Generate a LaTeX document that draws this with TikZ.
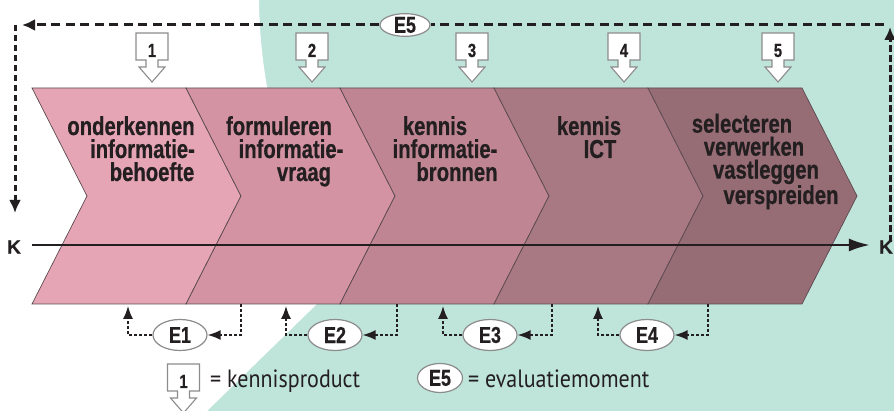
\documentclass[tikz,border=0pt]{standalone}
\usepackage{fontspec}
\setmainfont{Liberation Sans}
\newfontfamily\condb{Liberation Sans Bold}[FakeStretch=0.78,FakeBold=0.6]
\newfontfamily\kfont{Liberation Sans Bold}[FakeBold=0.5]
\newfontfamily\legf{PT Sans}[FakeStretch=0.88]
\usetikzlibrary{shapes.geometric,arrows.meta}
\definecolor{tealbg}{HTML}{BFE4DA}
\definecolor{chA}{HTML}{E6A5B5}
\definecolor{chB}{HTML}{D393A3}
\definecolor{chC}{HTML}{C08593}
\definecolor{chD}{HTML}{A87983}
\definecolor{chE}{HTML}{966C75}
\definecolor{chline}{HTML}{5B4A50}
\definecolor{ink}{HTML}{231F20}
\definecolor{rim}{HTML}{8C8C8C}
\begin{document}
\begin{tikzpicture}[x=1pt,y=-1pt,
  chev/.style={draw=chline, line width=0.7pt},
  lab/.style={font=\condb\fontsize{26}{23}\selectfont, text=ink, anchor=base, inner sep=0pt, align=center},
  num/.style={font=\condb\fontsize{19}{19}\selectfont, text=ink, anchor=base, inner sep=0pt},
  kl/.style={font=\kfont\fontsize{19}{19}\selectfont, text=ink, inner sep=0pt},
  ev/.style={ellipse, draw=rim, line width=1.2pt, fill=white, inner sep=0pt,
     font=\condb\fontsize{23}{23}\selectfont, text=ink, minimum width=54pt, minimum height=31pt},
  prodline/.style={draw=rim, line width=1.1pt, fill=white, line join=miter},
  prodbox/.pic={\path[prodline] (-16,-13.5) -- (16,-13.5) -- (16,13.5) -- (6,13.5) -- (6,20.5) -- (13,20.5) -- (0,35.5) -- (-13,20.5) -- (-6,20.5) -- (-6,13.5) -- (-16,13.5) -- cycle;},
  looph/.style={draw=ink, line width=3pt, dash pattern=on 9pt off 5.5pt},
  loopv/.style={draw=ink, line width=3pt, dash pattern=on 6.5pt off 3.5pt},
  bigtip/.style={-{Latex[length=13pt,width=12pt]}},
  small/.style={draw=ink, line width=1.5pt, dash pattern=on 3pt off 2pt, -{Latex[length=13pt,width=10pt]}},
  legtext/.style={font=\legf\fontsize{25}{25}\selectfont, text=ink, anchor=base west, inner sep=0pt}
]
\useasboundingbox (0,0) rectangle (894,411);
\fill[tealbg] (0,0) rectangle (894,411);
\fill[white] (0,0) -- (259,0) .. controls (261,160) and (330,240) .. (318,303) -- (207,411) -- (0,411) -- cycle;

% chevrons
\foreach \i/\c in {0/chA,1/chB,2/chC,3/chD,4/chE} {
  \pgfmathsetmacro\xa{32+154*\i}
  \draw[chev, fill=\c] (\xa,88) -- ({\xa+154},88) -- ({\xa+209},196) -- ({\xa+154},304) -- (\xa,304) -- ({\xa+55},196) -- cycle;
}

% chevron texts (anchor base = baseline of the last line)
\node[lab] (c1) at (131,181) {onderkennen\\\kern23pt informatie-\\\kern42pt behoefte};
\node[lab] (c2) at (279,181) {formuleren\\\kern24pt informatie-\\\kern50pt vraag};
\node[lab] (c3) at (435,181) {kennis\\\kern20pt informatie-\\\kern44pt bronnen};
\node[lab] (c4) at (589,158) {kennis\\\kern22pt ICT};
\node[lab] (c5) at (742,204) {selecteren\\\kern24pt verwerken\\\kern48pt vastleggen\\\kern78pt verspreiden};

% K axis
\node[kl] (kL) at (14,247) {K};
\node[kl] (kR) at (886,247) {K};
\draw[draw=ink, line width=2.6pt, -{Latex[length=21pt,width=13pt]}, shorten <=11pt, shorten >=9pt] (kL.east |- 0,245) -- (kR.west |- 0,245);

% product boxes
\foreach \x/\n in {152/1,312/2,472/3,624/4,778/5} {
  \pic at (\x,46.5) {prodbox};
  \node[num] (p\n) at (\x,57) {\n};
}

% E5 loop
\node[ev, minimum width=50pt, minimum height=22pt] (E5) at (405,25) {E5};
\coordinate (tl) at (15,25);
\coordinate (tlh) at (22,25);
\coordinate (bl) at (15,213);
\coordinate (trh) at (884,25);
\coordinate (trt) at (890,27);
\coordinate (br) at (890,242);
\draw[loopv, bigtip] (br) -- (trt);
\draw[looph] (trh) -- (E5.east);
\draw[looph, bigtip] (E5.west) -- (tlh);
\draw[loopv, bigtip] (tl) -- (bl);

% evaluation moments
\node[ev] (E1) at (180,335) {E1};
\node[ev] (E2) at (335,335) {E2};
\node[ev] (E3) at (490,335) {E3};
\node[ev] (E4) at (647,335) {E4};
\foreach \e/\l/\r in {E1/128/241, E2/286/397, E3/443/552, E4/598/708} {
  \coordinate (\e up) at (\l,306);
  \coordinate (\e dn) at (\r,304);
  \draw[small] (\e.west) -| (\e up);
  \draw[small] (\e dn) |- (\e.east);
}

% legend
\pic at (183.5,377.5) {prodbox};
\node[num] (pL) at (183.5,388) {1};
\node[legtext] (lg1) at (210,388) {= kennisproduct};
\node[ev, minimum width=45pt, minimum height=29pt] (E5L) at (440,378) {E5};
\node[legtext] (lg2) at (468,388) {= evaluatiemoment};
\end{tikzpicture}
\end{document}
